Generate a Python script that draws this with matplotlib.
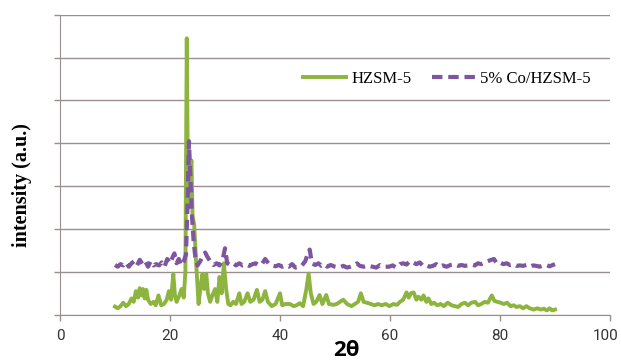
import matplotlib
matplotlib.use("Agg")
import matplotlib.pyplot as plt
from matplotlib.transforms import ScaledTranslation

# 2theta (deg) and intensity (gridline units) for HZSM-5
hzsm_x = [10.0, 10.5, 11.0, 11.5, 12.0, 12.5, 13.0, 13.4, 13.8, 14.2, 14.5, 14.8,
          15.1, 15.4, 15.7, 16.0, 16.5, 17.0, 17.4, 17.9, 18.4, 18.9, 19.4, 19.8,
          20.2, 20.6, 20.9, 21.2, 21.7, 22.1, 22.5, 22.8, 23.05, 23.3, 23.6, 23.9,
          24.1, 24.4, 24.8, 25.2, 25.6, 25.9, 26.2, 26.6, 26.9, 27.3, 27.7, 28.2,
          28.6, 29.0, 29.4, 29.8, 30.2, 30.6, 31.0, 31.5, 32.0, 32.6, 33.0, 33.5,
          34.1, 34.6, 35.2, 35.8, 36.3, 36.8, 37.3, 37.8, 38.5, 39.2, 40.0, 40.4,
          41.0, 41.8, 42.5, 43.0, 43.6, 44.2, 44.8, 45.2, 45.6, 46.1, 46.6, 47.2,
          47.7, 48.4, 48.9, 49.7, 50.3, 50.9, 51.5, 52.2, 53.0, 53.6, 54.2, 54.7,
          55.2, 55.8, 56.5, 57.2, 57.8, 58.5, 59.2, 59.9, 60.6, 61.3, 61.8, 62.4,
          63.0, 63.4, 63.8, 64.3, 64.8, 65.2, 65.7, 66.1, 66.6, 67.0, 67.5, 68.0,
          68.6, 69.2, 69.8, 70.5, 71.2, 71.8, 72.4, 73.0, 73.6, 74.2, 74.8, 75.5,
          76.0, 76.6, 77.2, 77.8, 78.5, 79.0, 79.5, 80.1, 80.7, 81.3, 81.9, 82.5,
          83.0, 83.6, 84.2, 84.8, 85.4, 86.1, 86.8, 87.4, 88.0, 88.5, 89.0, 89.5,
          90.0]
hzsm_y = [0.19, 0.15, 0.2, 0.28, 0.2, 0.25, 0.38, 0.3, 0.55, 0.4, 0.62, 0.45,
          0.6, 0.38, 0.58, 0.35, 0.25, 0.3, 0.22, 0.45, 0.22, 0.25, 0.35, 0.55,
          0.35, 0.95, 0.45, 0.3, 0.45, 0.6, 0.4, 1.0, 6.45, 2.5, 3.3, 3.6,
          2.3, 2.1, 1.1, 0.25, 0.7, 0.95, 0.6, 0.95, 0.5, 0.3, 0.45, 0.6,
          0.3, 0.88, 0.5, 1.2, 0.6, 0.25, 0.22, 0.3, 0.25, 0.5, 0.25, 0.3,
          0.5, 0.3, 0.35, 0.58, 0.3, 0.35, 0.55, 0.3, 0.2, 0.25, 0.5, 0.22,
          0.25, 0.25, 0.2, 0.22, 0.27, 0.2, 0.6, 0.96, 0.5, 0.25, 0.3, 0.46,
          0.25, 0.46, 0.25, 0.23, 0.25, 0.3, 0.35, 0.25, 0.2, 0.25, 0.3, 0.5,
          0.3, 0.28, 0.25, 0.22, 0.25, 0.22, 0.25, 0.2, 0.25, 0.23, 0.3, 0.35,
          0.52, 0.4, 0.5, 0.52, 0.35, 0.42, 0.35, 0.45, 0.3, 0.38, 0.25, 0.28,
          0.22, 0.25, 0.2, 0.28, 0.22, 0.2, 0.18, 0.25, 0.28, 0.22, 0.28, 0.3,
          0.22, 0.25, 0.3, 0.28, 0.45, 0.32, 0.3, 0.28, 0.25, 0.28, 0.2, 0.22,
          0.18, 0.2, 0.15, 0.2, 0.15, 0.12, 0.15, 0.12, 0.14, 0.1, 0.15, 0.1,
          0.12]

# 5% Co/HZSM-5
co_x = [10.0, 10.5, 11.0, 11.5, 12.0, 12.5, 13.0, 13.5, 14.0, 14.5, 15.0, 15.5,
        16.0, 16.5, 17.0, 17.5, 18.0, 18.5, 19.0, 19.5, 20.0, 20.5, 20.8, 21.2,
        21.6, 22.0, 22.5, 22.9, 23.2, 23.45, 23.7, 24.0, 24.3, 24.6, 25.0, 25.5,
        26.0, 26.4, 26.8, 27.3, 27.9, 28.5, 29.0, 29.6, 30.0, 30.4, 30.9, 31.5,
        32.0, 32.6, 33.2, 33.8, 34.4, 35.0, 35.6, 36.2, 36.8, 37.3, 37.9, 38.5,
        39.2, 39.8, 40.4, 41.0, 41.6, 42.2, 42.8, 43.5, 44.0, 44.6, 45.0, 45.4,
        45.8, 46.4, 47.0, 47.5, 48.0, 48.6, 49.2, 50.0, 50.8, 51.5, 52.2, 52.8,
        53.4, 54.0, 54.5, 55.2, 56.0, 56.8, 57.5, 58.2, 59.0, 59.8, 60.5, 61.1,
        61.8, 62.4, 63.0, 63.6, 64.2, 64.8, 65.4, 66.0, 66.6, 67.2, 67.8, 68.4,
        69.0, 69.6, 70.3, 71.0, 71.7, 72.4, 73.0, 73.6, 74.2, 74.8, 75.4, 76.0,
        76.6, 77.2, 77.8, 78.4, 78.9, 79.4, 80.0, 80.6, 81.2, 81.8, 82.4, 83.0,
        83.6, 84.2, 84.8, 85.4, 86.0, 86.6, 87.2, 87.8, 88.4, 89.0, 89.6, 90.0]
co_y = [1.16, 1.12, 1.18, 1.15, 1.22, 1.12, 1.2, 1.25, 1.15, 1.28, 1.18, 1.25,
        1.12, 1.25, 1.15, 1.18, 1.15, 1.22, 1.12, 1.3, 1.2, 1.35, 1.43, 1.2,
        1.3, 1.15, 1.25, 1.4, 2.6, 4.05, 3.2, 2.3, 1.7, 1.35, 1.15, 1.25,
        1.38, 1.45, 1.35, 1.25, 1.16, 1.2, 1.15, 1.3, 1.55, 1.2, 1.16, 1.2,
        1.15, 1.2, 1.15, 1.18, 1.14, 1.18, 1.2, 1.15, 1.2, 1.3, 1.2, 1.15,
        1.13, 1.16, 1.12, 1.15, 1.12, 1.18, 1.1, 1.12, 1.15, 1.25, 1.4, 1.52,
        1.2, 1.16, 1.2, 1.14, 1.18, 1.12, 1.16, 1.12, 1.1, 1.14, 1.1, 1.12,
        1.15, 1.2, 1.14, 1.12, 1.15, 1.12, 1.1, 1.16, 1.12, 1.12, 1.15, 1.1,
        1.18, 1.2, 1.17, 1.25, 1.22, 1.18, 1.22, 1.14, 1.16, 1.12, 1.14, 1.18,
        1.12, 1.15, 1.12, 1.16, 1.18, 1.14, 1.16, 1.14, 1.15, 1.17, 1.15, 1.2,
        1.18, 1.22, 1.25, 1.28, 1.3, 1.2, 1.22, 1.18, 1.2, 1.16, 1.18, 1.14,
        1.15, 1.14, 1.16, 1.12, 1.15, 1.14, 1.12, 1.15, 1.16, 1.13, 1.16, 1.18]

x_ticks = [0, 20, 40, 60, 80, 100]
GREEN = "#8db43e"
PURPLE = "#7e56a0"
GRID = "#9a8e8e"

fig = plt.figure(figsize=(6.21, 3.64), dpi=100)
ax = fig.add_axes([0.0966, 0.1354, 0.8857, 0.8242])

ax.plot(hzsm_x, hzsm_y, color=GREEN, lw=2.8, label="HZSM-5", zorder=3)
ax.plot(co_x, co_y, color=PURPLE, lw=3.0, dashes=(2.5, 1.4),
        label="5% Co/HZSM-5", zorder=4)

ax.set_xlim(0, 100)
ax.set_ylim(0, 7)
ax.set_xticks(x_ticks)
ax.set_yticks(range(8))
ax.set_yticklabels([])
ax.grid(axis="y", color=GRID, lw=1.0)
ax.set_axisbelow(True)
for side in ("top", "right"):
    ax.spines[side].set_visible(False)
for side in ("left", "bottom"):
    ax.spines[side].set_color(GRID)
ax.tick_params(axis="both", direction="out", length=4, color=GRID, width=1)
ax.tick_params(axis="x", labelsize=11, labelcolor="#333333", pad=6)
for lab in ax.get_xticklabels():
    lab.set_family("Roboto")
# keep the "100" label inside the canvas
last = ax.get_xticklabels()[-1]
last.set_transform(last.get_transform() + ScaledTranslation(-4 / 100, 0, fig.dpi_scale_trans))

ax.set_xlabel("2θ", fontsize=16, fontweight="bold", family="Open Sans")
ax.xaxis.set_label_coords(0.521, -0.085)
ax.set_ylabel("intensity (a.u.)", fontsize=14.5, fontweight="bold",
              family="Liberation Serif")
ax.yaxis.set_label_coords(-0.05, 0.432)

ax.legend(loc="center left", bbox_to_anchor=(0.442, 0.786), ncol=2,
          frameon=False, borderpad=0, borderaxespad=0, handlelength=2.6,
          handletextpad=0.3, columnspacing=1.2,
          prop={"family": "Liberation Serif", "size": 12})

fig.savefig("out.png", dpi=100)
